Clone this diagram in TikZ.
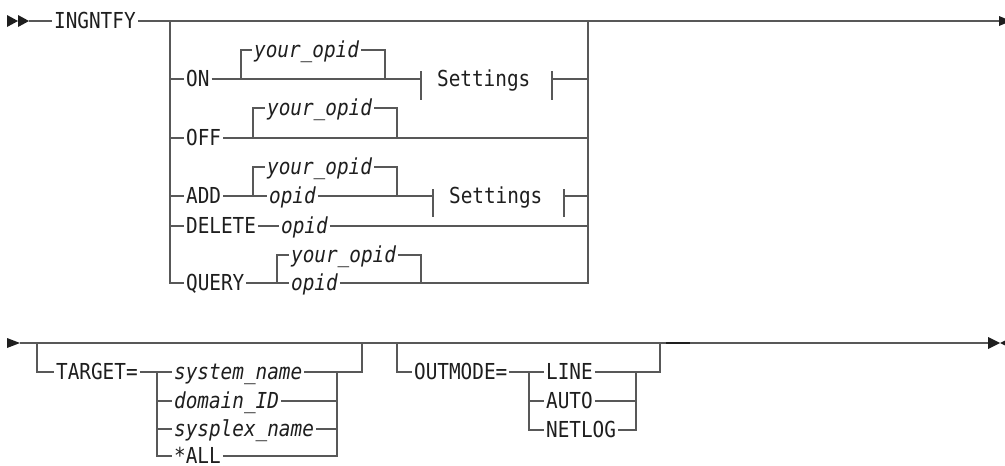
\documentclass[tikz,border=0pt]{standalone}
\usepackage{fontspec}
\setmonofont{DejaVu Sans Mono}[FakeStretch=0.88]
\usetikzlibrary{positioning}
\definecolor{rrgray}{RGB}{88,88,88}
\definecolor{rrtext}{RGB}{30,30,30}
\tikzset{
  rrkw/.style={anchor=west, inner xsep=1.5pt, inner ysep=0pt, text height=15pt, text depth=0pt, text=rrtext, font=\ttfamily\fontsize{22}{24}\selectfont},
  rrvar/.style={rrkw, font=\ttfamily\itshape\fontsize{22}{24}\selectfont},
  rrtip/.style={fill=rrtext, draw=none},
  rrblot/.style={line width=2.4pt, draw=rrtext}
}

\begin{document}
\begin{tikzpicture}[x=1pt, y=-1pt, line width=1.2pt, color=rrgray]
  \useasboundingbox[fill=white] (0,0) rectangle (1005,466);
  % first line
  \fill[rrtip] (7,15) -- (18,21) -- (7,27) -- cycle;
  \fill[rrtip] (18,15) -- (29,21) -- (18,27) -- cycle;
  \coordinate (start1) at (29,21);
  \coordinate (end1) at (999,21);
  \coordinate (jl) at (170,21);
  \coordinate (jr) at (588,21);
  \node[rrkw] (ingntfy) at (52,21) {INGNTFY};
  \draw (start1) -- (ingntfy.west);
  \draw (ingntfy.east) -- (end1);
  \fill[rrtip] (999,16) -- (1011,21) -- (999,26) -- cycle;

  % ON
  \node[rrkw] (on) at (184,79) {ON};
  \node[rrvar] (onyo) at (252,50) {your\_opid};
  \node[rrkw] (setA) at (435,79) {Settings};
  \coordinate (onbl) at (241,79);
  \coordinate (onbr) at (385,79);
  \coordinate (sAl) at (421,79);
  \coordinate (sAr) at (552,79);
  \draw (jl) |- (on.west);
  \draw (on.east) -- (sAl);
  \draw (onbl) |- (onyo.west);
  \draw (onyo.east) -| (onbr);
  \draw ([yshift=8pt]sAl) -- ([yshift=-21pt]sAl);
  \draw ([yshift=8pt]sAr) -- ([yshift=-21pt]sAr);
  \draw (sAr) -- (sAr -| jr);

  % OFF
  \node[rrkw] (off) at (184,138) {OFF};
  \node[rrvar] (offyo) at (265,108) {your\_opid};
  \coordinate (offbl) at (253,138);
  \coordinate (offbr) at (397,138);
  \draw (jl) |- (off.west);
  \draw (off.east) -- (off.east -| jr);
  \draw (offbl) |- (offyo.west);
  \draw (offyo.east) -| (offbr);

  % ADD
  \node[rrkw] (add) at (184,196) {ADD};
  \node[rrvar] (addyo) at (265,167) {your\_opid};
  \node[rrvar] (addopid) at (267,196) {opid};
  \node[rrkw] (setB) at (447,196) {Settings};
  \coordinate (addbl) at (253,196);
  \coordinate (addbr) at (397,196);
  \coordinate (sBl) at (433,196);
  \coordinate (sBr) at (564,196);
  \draw (jl) |- (add.west);
  \draw (add.east) -- (addbl);
  \draw (addbl) -- (addopid.west);
  \draw (addbl) |- (addyo.west);
  \draw (addyo.east) -| (addbr);
  \draw (addopid.east) -- (sBl);
  \draw ([yshift=7pt]sBl) -- ([yshift=-21pt]sBl);
  \draw ([yshift=7pt]sBr) -- ([yshift=-21pt]sBr);
  \draw (sBr) -- (sBr -| jr);

  % DELETE
  \node[rrkw] (del) at (184,226) {DELETE};
  \node[rrvar] (delopid) at (279,226) {opid};
  \draw (jl) |- (del.west);
  \draw (del.east) -- (delopid.west);
  \draw (delopid.east) -- (delopid.east -| jr);

  % QUERY
  \node[rrkw] (qry) at (184,283) {QUERY};
  \node[rrvar] (qryyo) at (289,255) {your\_opid};
  \node[rrvar] (qryopid) at (289,283) {opid};
  \coordinate (qrybl) at (277,283);
  \coordinate (qrybr) at (421,283);
  \draw (jl) |- (qry.west);
  \draw (qry.east) -- (qrybl);
  \draw (qrybl) -- (qryopid.west);
  \draw (qrybl) |- (qryyo.west);
  \draw (qryyo.east) -| (qrybr);
  \draw (qryopid.east) -| (jr);

  % second line
  \fill[rrtip] (7,338) -- (20,343) -- (7,348) -- cycle;
  \coordinate (start2) at (20,343);
  \coordinate (end2) at (988,343);
  \draw (start2) -- (end2);
  \fill[rrtip] (988,337) -- (1000,343) -- (988,349) -- cycle;
  \fill[rrtip] (1012,337) -- (1000,343) -- (1012,349) -- cycle;

  % TARGET
  \coordinate (tgl) at (37,343);
  \coordinate (tgr) at (362,343);
  \coordinate (tgcl) at (157,372);
  \coordinate (tgcr) at (337,372);
  \node[rrkw] (target) at (54,372) {TARGET=};
  \node[rrvar] (sysname) at (172,372) {system\_name};
  \node[rrvar] (domid) at (172,401) {domain\_ID};
  \node[rrvar] (plexname) at (172,429) {sysplex\_name};
  \node[rrkw] (allsys) at (172,456) {*ALL};
  \draw (tgl) |- (target.west);
  \draw (target.east) -- (tgcl);
  \draw (tgcl) -- (sysname.west);
  \draw (tgcl) |- (domid.west);
  \draw (tgcl) |- (plexname.west);
  \draw (tgcl) |- (allsys.west);
  \draw (sysname.east) -- (tgcr);
  \draw (domid.east) -| (tgcr);
  \draw (plexname.east) -| (tgcr);
  \draw (allsys.east) -| (tgcr);
  \draw (tgcr) -| (tgr);

  % OUTMODE
  \coordinate (oml) at (397,343);
  \coordinate (omr) at (660,343);
  \coordinate (omcl) at (529,372);
  \coordinate (omcr) at (636,372);
  \node[rrkw] (outmode) at (412,372) {OUTMODE=};
  \node[rrkw] (line) at (544,372) {LINE};
  \node[rrkw] (auto) at (544,401) {AUTO};
  \node[rrkw] (netlog) at (544,430) {NETLOG};
  \draw (oml) |- (outmode.west);
  \draw (outmode.east) -- (omcl);
  \draw (omcl) -- (line.west);
  \draw (omcl) |- (auto.west);
  \draw (omcl) |- (netlog.west);
  \draw (line.east) -- (omcr);
  \draw (auto.east) -| (omcr);
  \draw (netlog.east) -| (omcr);
  \draw (omcr) -| (omr);
  \coordinate (blotl) at (666,343);
  \coordinate (blotr) at (690,343);
  \draw[rrblot] (blotl) -- (blotr);
\end{tikzpicture}
\end{document}
